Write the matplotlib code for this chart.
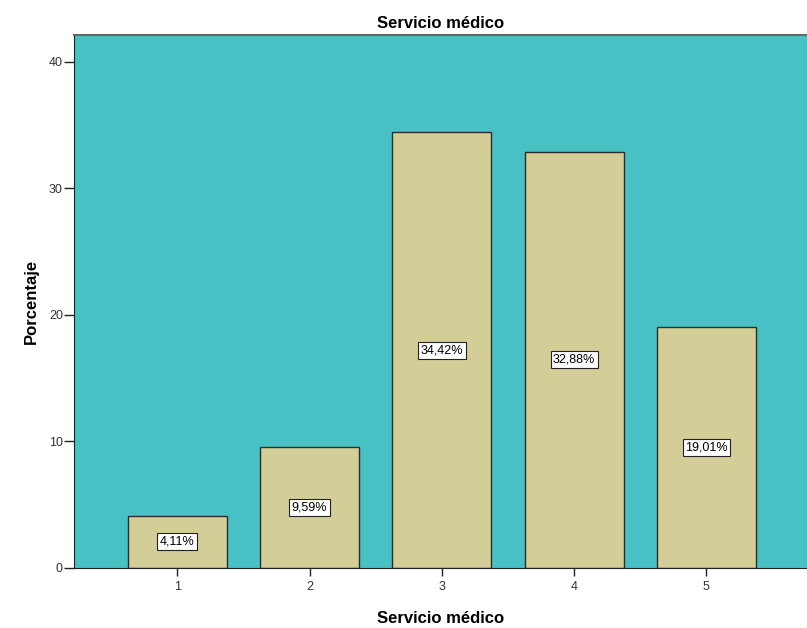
import matplotlib
matplotlib.use("Agg")
import matplotlib.pyplot as plt

categories = [1, 2, 3, 4, 5]
percentages = [4.11, 9.59, 34.42, 32.88, 19.01]
value_labels = ["4,11%", "9,59%", "34,42%", "32,88%", "19,01%"]
yticks = [0, 10, 20, 30, 40]

plt.rcParams['font.family'] = ['Liberation Sans', 'DejaVu Sans']

fig = plt.figure(figsize=(8.07, 6.28), dpi=100)
ax = fig.add_axes([74 / 807, 60 / 628, 1 - 74 / 807, (568 - 35) / 628])

ax.set_facecolor('#48c1c5')
ax.bar(categories, percentages, width=0.75, color='#d3ce97',
       edgecolor='#2b2b2b', linewidth=1.0, zorder=2)

for x, v, lab in zip(categories, percentages, value_labels):
    ax.text(x, v / 2, lab, ha='center', va='center', fontsize=9, zorder=3,
            bbox=dict(boxstyle='square,pad=0.2', facecolor='white',
                      edgecolor='#222222', linewidth=0.8))

ax.set_xlim(0.22, 5.76)
ax.set_ylim(0, 42.1)
ax.set_xticks(categories)
ax.set_xticklabels([str(c) for c in categories])
ax.set_yticks(yticks)
ax.tick_params(axis='both', labelsize=9, direction='out', width=1,
               colors='#222222', labelcolor='#333333')
ax.tick_params(axis='y', length=7, pad=1)
ax.tick_params(axis='x', length=6, pad=3)

ax.spines['right'].set_visible(False)
ax.spines['top'].set_color('#666666')
ax.spines['top'].set_linewidth(1.5)
ax.spines['left'].set_color('#222222')
ax.spines['bottom'].set_color('#222222')

ax.set_title('Servicio médico', fontsize=12, fontweight='bold', pad=5)
ax.set_xlabel('Servicio médico', fontsize=12, fontweight='bold', labelpad=13)
ax.set_ylabel('Porcentaje', fontsize=12, fontweight='bold', labelpad=7)

fig.savefig('out.png', dpi=100)
